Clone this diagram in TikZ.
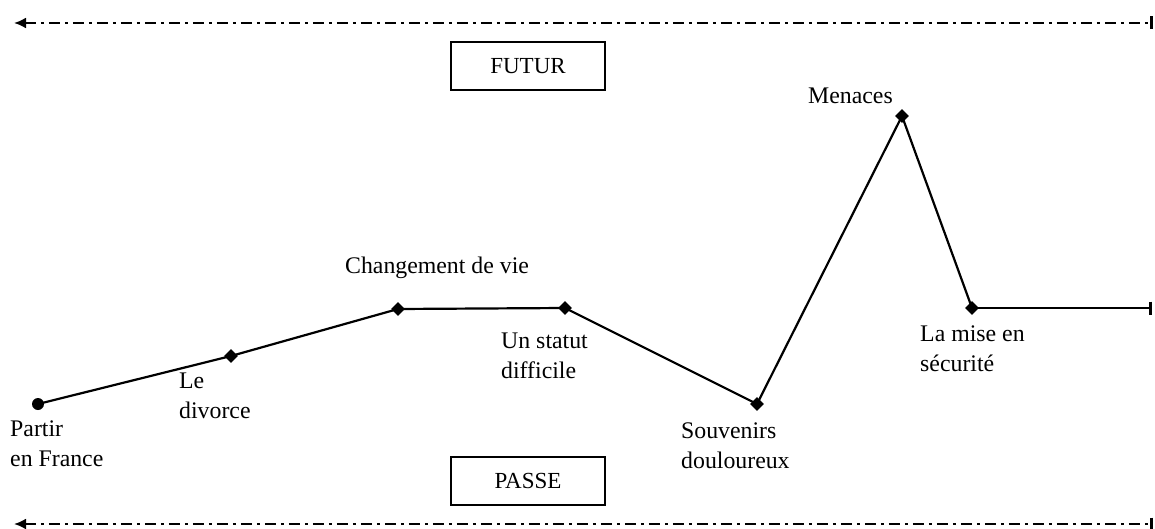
\documentclass[tikz,border=0pt]{standalone}
\usepackage{fontspec}
\setmainfont{Liberation Serif}
\usetikzlibrary{arrows.meta,shapes.geometric}
\begin{document}
\begin{tikzpicture}[x=1pt,y=-1pt,
  axis/.style={line width=2.2pt,dash pattern=on 11pt off 5pt on 3pt off 5pt,{Latex[length=12pt,width=11pt]}-{Bar[width=13pt,line width=3pt]}},
  pt/.style={diamond,fill=black,inner sep=0pt,minimum size=14pt},
  lbl/.style={font=\fontsize{23.8}{29.5}\selectfont,align=left,inner sep=0pt},
  box/.style={draw,line width=2.5pt,minimum width=154pt,minimum height=48pt,font=\fontsize{23}{27}\selectfont,inner sep=0pt},
  seg/.style={line width=2.2pt}]
\useasboundingbox (0,0) rectangle (1155,529);
\coordinate (tl) at (14,23);
\coordinate (tr) at (1153,23);
\coordinate (bl) at (14,524);
\coordinate (br) at (1153,524);
\draw[axis] (tl) -- (tr);
\draw[axis] (bl) -- (br);
\node[box] (futur) at (528,66) {FUTUR};
\node[box] (passe) at (528,481) {PASSE};
\node[circle,fill=black,inner sep=0pt,minimum width=10pt,minimum height=12pt] (p1) at (38,404) {};
\node[pt] (p2) at (231,356) {};
\node[pt] (p3) at (398,309) {};
\node[pt] (p4) at (565,308) {};
\node[pt] (p5) at (757,404) {};
\node[pt] (p6) at (902,116) {};
\node[pt] (p7) at (972,308) {};
\coordinate (pend) at (1152,308);
\draw[seg] (p1.center) -- (p2.center) -- (p3.center) -- (p4.center) -- (p5.center) -- (p6.center) -- (p7.center);
\draw[seg,-{Bar[width=13pt,line width=3pt]}] (p7.center) -- (pend);
\node[lbl,anchor=north west] (l1) at (10,421) {Partir\\en France};
\node[lbl,anchor=north west] (l2) at (179,373) {Le\\divorce};
\node[lbl,anchor=north west] (l3) at (345,257) {Changement de vie};
\node[lbl,anchor=north west] (l4) at (501,333) {Un statut\\difficile};
\node[lbl,anchor=north west] (l5) at (681,423) {Souvenirs\\douloureux};
\node[lbl,anchor=north west] (l6) at (808,88) {Menaces};
\node[lbl,anchor=north west] (l7) at (920,326) {La mise en\\sécurité};
\end{tikzpicture}
\end{document}
